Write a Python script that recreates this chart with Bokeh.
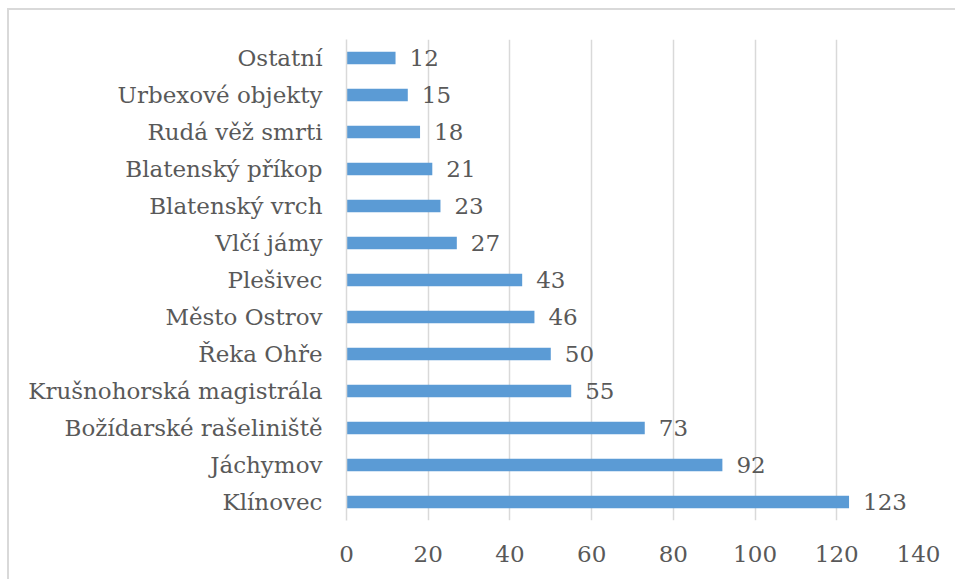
from bokeh.plotting import figure
from bokeh.models import ColumnDataSource, Range1d, FactorRange, FixedTicker
from bokeh.core.properties import value
from bokeh.embed import file_html
from bokeh.resources import INLINE

categories = ["Ostatní", "Urbexové objekty", "Rudá věž smrti", "Blatenský příkop",
              "Blatenský vrch", "Vlčí jámy", "Plešivec", "Město Ostrov", "Řeka Ohře",
              "Krušnohorská magistrála", "Božídarské rašeliniště", "Jáchymov", "Klínovec"]
counts = [12, 15, 18, 21, 23, 27, 43, 46, 50, 55, 73, 92, 123]
x_ticks = [0, 20, 40, 60, 80, 100, 120, 140]

FONT = "DejaVu Serif"
FSIZE = "23px"
TXT = "#595959"
GRID = "#d9d9d9"
BAR = "#5b9bd5"

src = ColumnDataSource(dict(cat=categories, n=counts, lab=[str(v) for v in counts]))

p = figure(width=948, height=571, output_backend="svg", toolbar_location=None,
           y_range=FactorRange(factors=list(reversed(categories))),
           x_range=Range1d(x_ticks[0], x_ticks[-1]),
           min_border_left=337, min_border_right=39, min_border_top=29, min_border_bottom=61)
p.margin = (8, 0, 0, 7)
p.styles = {"border-left": "2px solid #d9d9d9", "border-top": "2px solid #d9d9d9"}
p.outline_line_color = None
p.background_fill_color = "white"
p.border_fill_color = "white"

p.hbar(y="cat", right="n", left=0, height=0.34, source=src, color=BAR, line_color=None)
p.text(x="n", y="cat", text="lab", source=src, x_offset=14, text_baseline="middle",
       text_align="left", text_font=value(FONT), text_font_size=FSIZE, text_color=TXT)

p.xaxis.ticker = FixedTicker(ticks=x_ticks)
p.xgrid.ticker = FixedTicker(ticks=x_ticks)
p.xgrid.grid_line_color = GRID
p.xgrid.grid_line_width = 1.5
p.ygrid.grid_line_color = None

p.xaxis.axis_line_color = None
p.xaxis.major_tick_line_color = None
p.xaxis.minor_tick_line_color = None
p.xaxis.major_label_text_font = FONT
p.xaxis.major_label_text_font_size = FSIZE
p.xaxis.major_label_text_color = TXT
p.xaxis.major_label_standoff = 19

p.yaxis.axis_line_color = GRID
p.yaxis.axis_line_width = 1.5
p.yaxis.major_tick_line_color = None
p.yaxis.minor_tick_line_color = None
p.yaxis.major_label_text_font = FONT
p.yaxis.major_label_text_font_size = FSIZE
p.yaxis.major_label_text_color = TXT
p.yaxis.major_label_standoff = 18

open("out.html", "w").write(file_html(p, INLINE))
